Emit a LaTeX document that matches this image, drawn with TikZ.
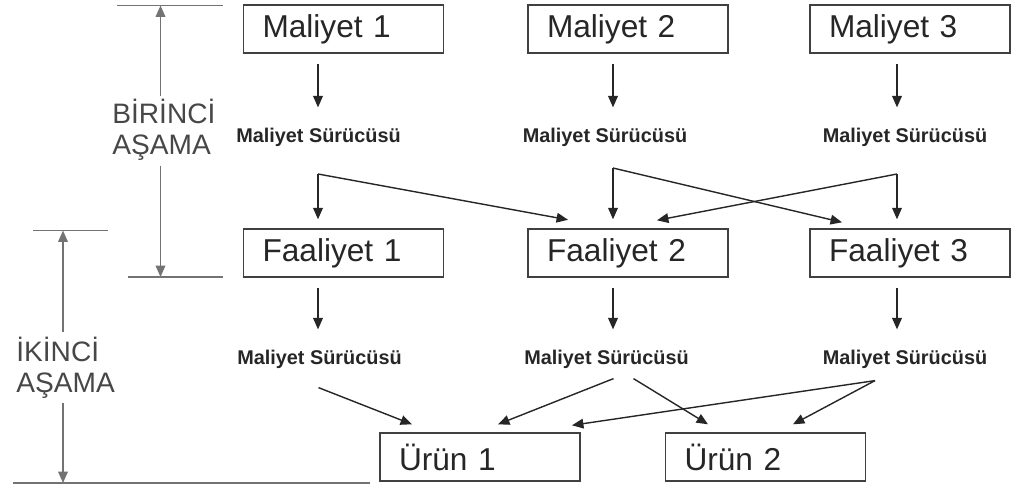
\documentclass[tikz,border=0pt]{standalone}
\usepackage{fontspec}
\setmainfont{Liberation Sans}
\usetikzlibrary{arrows.meta}
\usetikzlibrary{positioning}

\begin{document}
\begin{tikzpicture}[
	kutu/.style={draw=black!75, line width=0.8pt, minimum width=4cm, minimum height=0.96cm, text width=3.24cm, inner xsep=0.38cm, align=left, font=\fontsize{18}{20}\selectfont, text=black!85},
	surucu/.style={inner sep=0pt, font=\fontsize{11.3}{13}\selectfont\bfseries, text=black!85},
	ok/.style={->, >={Triangle[length=6.5pt,width=5.5pt]}, line width=0.8pt, draw=black!85},
	olcu/.style={draw=black!55, line width=0.8pt},
	olcuok/.style={olcu, ->, >={Triangle[length=6.5pt,width=5.5pt]}, fill=black!70},
	asama/.style={align=left, font=\fontsize{16}{17.5}\selectfont, text=black!72, inner sep=0pt}
]
	\useasboundingbox (0,0) rectangle (20.26,-9.72);

	% boxes
	\node[kutu] (m1) at (6.87,-0.58) {Maliyet 1};
	\node[kutu] (m2) at (12.56,-0.58) {Maliyet 2};
	\node[kutu] (m3) at (18.2,-0.58) {Maliyet 3};
	\node[kutu] (f1) at (6.87,-5.06) {Faaliyet 1};
	\node[kutu] (f2) at (12.56,-5.06) {Faaliyet 2};
	\node[kutu] (f3) at (18.2,-5.06) {Faaliyet 3};
	\node[kutu] (u1) at (9.6,-9.14) {Ürün 1};
	\node[kutu] (u2) at (15.31,-9.14) {Ürün 2};

	% drivers
	\node[surucu] (d1) at (6.37,-2.74) {Maliyet Sürücüsü};
	\node[surucu] (d2) at (12.1,-2.74) {Maliyet Sürücüsü};
	\node[surucu] (d3) at (18.1,-2.74) {Maliyet Sürücüsü};
	\node[surucu] (e1) at (6.39,-7.18) {Maliyet Sürücüsü};
	\node[surucu] (e2) at (12.13,-7.18) {Maliyet Sürücüsü};
	\node[surucu] (e3) at (18.1,-7.18) {Maliyet Sürücüsü};

	\coordinate (c1) at (6.36,-3.48);
	\coordinate (c2) at (12.26,-3.36);
	\coordinate (c3) at (17.94,-3.48);

	% first stage
	\draw[ok, shorten <=0.2cm, shorten >=0.4cm] (c1 |- m1.south) -- (c1 |- d1.north);
	\draw[ok, shorten <=0.2cm, shorten >=0.4cm] (c2 |- m2.south) -- (c2 |- d2.north);
	\draw[ok, shorten <=0.2cm, shorten >=0.4cm] (c3 |- m3.south) -- (c3 |- d3.north);

	\draw[ok, shorten >=0.18cm] (c1) -- (c1 |- f1.north);
	\draw[ok] (c1) -- ([shift={(-1.2,0.17)}]f2.north);
	\draw[ok, shorten >=0.18cm] (c2) -- (c2 |- f2.north);
	\draw[ok] (c2) -- ([shift={(-1.36,0.12)}]f3.north);
	\draw[ok, shorten >=0.18cm] (c3) -- (c3 |- f3.north);
	\draw[ok] (c3) -- ([shift={(0.58,0.16)}]f2.north);

	% second stage
	\draw[ok, shorten <=0.2cm, shorten >=0.4cm] (c1 |- f1.south) -- (c1 |- e1.north);
	\draw[ok, shorten <=0.2cm, shorten >=0.4cm] (c2 |- f2.south) -- (c2 |- e2.north);
	\draw[ok, shorten <=0.2cm, shorten >=0.4cm] (c3 |- f3.south) -- (c3 |- e3.north);

	\draw[ok] ([shift={(-0.02,-0.38)}]e1.south) -- ([shift={(-1.36,0.16)}]u1.north);
	\draw[ok] ([shift={(0.14,-0.2)}]e2.south) -- ([shift={(0.36,0.16)}]u1.north);
	\draw[ok] ([shift={(0.54,-0.2)}]e2.south) -- ([shift={(-1.15,0.16)}]u2.north);
	\draw[ok] ([shift={(-0.6,-0.24)}]e3.south) -- ([shift={(1.84,0.14)}]u1.north);
	\draw[ok] ([shift={(-0.6,-0.24)}]e3.south) -- ([shift={(0.55,0.16)}]u2.north);

	% stages
	\node[asama, anchor=west] (s1) at (2.24,-2.6) {BİRİNCİ\\AŞAMA};
	\node[asama, anchor=west] (s2) at (0.32,-7.35) {İKİNCİ\\AŞAMA};

	\coordinate (s1top) at (3.21,-0.11);
	\coordinate (s1bot) at (3.21,-5.54);
	\coordinate (s2top) at (1.26,-4.61);
	\coordinate (s2bot) at (1.26,-9.66);

	\draw[olcu] (2.34,-0.11) -- (4.46,-0.11);
	\draw[olcu] (2.56,-5.54) -- (4.46,-5.54);
	\draw[olcu] (0.66,-4.61) -- (2.16,-4.61);
	\draw[olcu] (0.26,-9.66) -- (7.4,-9.66);

	\draw[olcuok, shorten <=0.06cm] (s1.north -| s1top) -- (s1top);
	\draw[olcuok, shorten <=0.1cm] (s1.south -| s1bot) -- (s1bot);
	\draw[olcuok, shorten <=0.1cm] (s2.north -| s2top) -- (s2top);
	\draw[olcuok, shorten <=0.1cm] (s2.south -| s2bot) -- (s2bot);
\end{tikzpicture}
\end{document}
